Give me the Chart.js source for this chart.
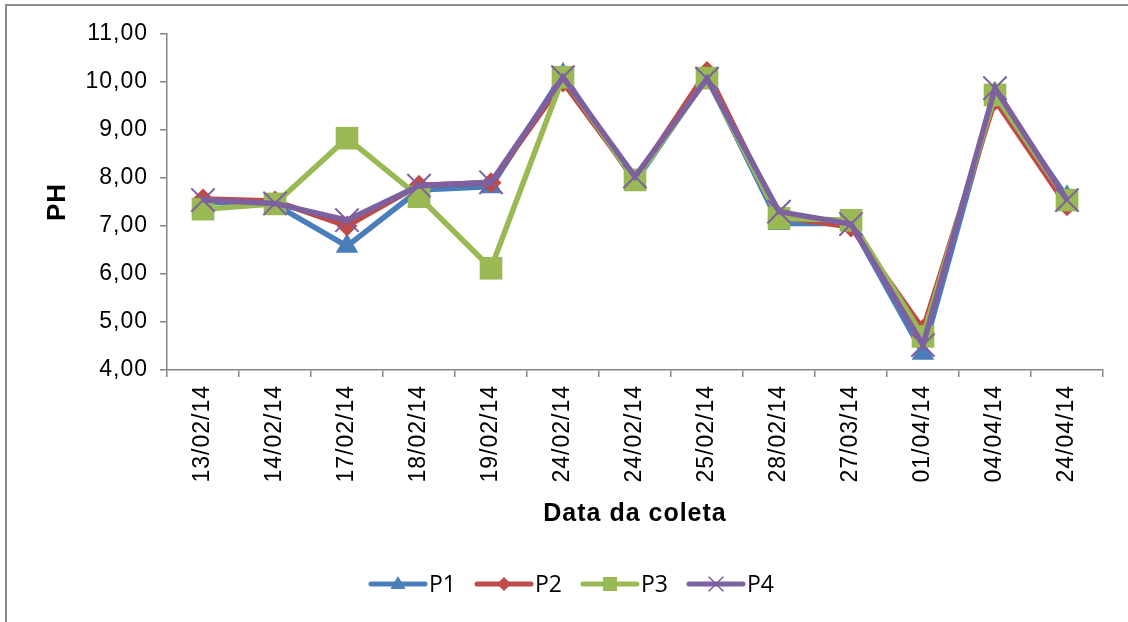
<!DOCTYPE html>
<html>
<head>
<meta charset="utf-8">
<script src="https://cdn.jsdelivr.net/npm/chart.js@4.4.1/dist/chart.umd.min.js"></script>
<style>
  html, body { margin: 0; padding: 0; background: #ffffff; }
  #wrap { width: 1128px; height: 622px; position: relative; }
</style>
</head>
<body>
<div id="wrap"><canvas id="ph" width="1128" height="622"></canvas></div>
<script>
// Collection dates (x categories)
const dates = ['13/02/14', '14/02/14', '17/02/14', '18/02/14', '19/02/14', '24/02/14',
               '24/02/14', '25/02/14', '28/02/14', '27/03/14', '01/04/14', '04/04/14', '24/04/14'];

// pH measured at each sampling point
const p1 = [7.50, 7.45, 6.58, 7.75, 7.82, 10.15, 7.92, 10.10, 7.05, 7.05, 4.35, 9.75, 7.60];
const p2 = [7.56, 7.52, 7.00, 7.85, 7.90, 10.00, 7.97, 10.22, 7.20, 6.98, 4.85, 9.62, 7.42];
const p3 = [7.35, 7.46, 8.83, 7.61, 6.12, 10.10, 7.96, 10.08, 7.16, 7.12, 4.70, 9.73, 7.54];
const p4 = [7.54, 7.47, 7.12, 7.84, 7.91, 10.10, 8.03, 10.07, 7.30, 7.04, 4.52, 9.87, 7.54];

const seriesNames = ['P1', 'P2', 'P3', 'P4'];

const FONT = '"Liberation Sans", Arial, sans-serif';
const AXIS = '#868686';
const SPACING = '1px';

Chart.defaults.font.family = FONT;

function fmt(v) { return v.toFixed(2).replace('.', ','); }

// Axis text is set with a little extra tracking
const tracking = {
  id: 'tracking',
  beforeUpdate(chart) { chart.ctx.letterSpacing = SPACING; },
  beforeLayout(chart) { chart.ctx.letterSpacing = SPACING; },
  beforeDraw(chart) { chart.ctx.letterSpacing = SPACING; }
};

// Small marker used in the key below the plot
function keyMarker(ctx, style, color, x, y) {
  ctx.save();
  ctx.fillStyle = color;
  ctx.strokeStyle = color;
  ctx.beginPath();
  if (style === 'triangle') {
    ctx.moveTo(x, y - 8); ctx.lineTo(x + 7.5, y + 5); ctx.lineTo(x - 7.5, y + 5); ctx.closePath(); ctx.fill();
  } else if (style === 'rectRot') {
    ctx.moveTo(x, y - 7); ctx.lineTo(x + 7, y); ctx.lineTo(x, y + 7); ctx.lineTo(x - 7, y); ctx.closePath(); ctx.fill();
  } else if (style === 'rect') {
    ctx.rect(x - 7, y - 7, 14, 14); ctx.fill();
  } else {
    ctx.lineWidth = 1.5;
    ctx.moveTo(x - 7, y - 7); ctx.lineTo(x + 7, y + 7);
    ctx.moveTo(x + 7, y - 7); ctx.lineTo(x - 7, y + 7);
    ctx.stroke();
  }
  ctx.restore();
}

const frameAndKey = {
  id: 'frameAndKey',
  afterDraw(chart) {
    const ctx = chart.ctx;
    ctx.save();
    ctx.letterSpacing = '0px';
    // outer frame
    ctx.strokeStyle = '#8c8c8c';
    ctx.lineWidth = 2;
    ctx.beginPath();
    ctx.moveTo(6, 622); ctx.lineTo(6, 5); ctx.lineTo(1128, 5);
    ctx.stroke();

    // key
    const y = 584;
    chart.data.datasets.forEach((ds, i) => {
      const x0 = 371 + i * 106;
      ctx.strokeStyle = ds.borderColor;
      ctx.lineWidth = 5;
      ctx.lineCap = 'round';
      ctx.beginPath();
      ctx.moveTo(x0, y); ctx.lineTo(x0 + 54, y);
      ctx.stroke();
      keyMarker(ctx, ds.pointStyle, ds.borderColor, x0 + 27, y);
      ctx.fillStyle = '#000';
      ctx.font = '23px "Open Sans", sans-serif';
      ctx.textBaseline = 'middle';
      ctx.textAlign = 'left';
      ctx.fillText(ds.label, x0 + 58, y + 1);
    });
    ctx.restore();
  }
};

const colors = ['#4a7ebb', '#be4b48', '#98b954', '#7d60a0'];
const styles = ['triangle', 'rectRot', 'rect', 'crossRot'];
const radii = [13, 10.5, 16, 16.5];
const values = [p1, p2, p3, p4];

const datasets = values.map((vals, i) => ({
  label: seriesNames[i],
  data: vals,
  borderColor: colors[i],
  backgroundColor: colors[i],
  borderWidth: 5.5,
  tension: 0,
  pointStyle: styles[i],
  pointRadius: radii[i],
  pointBackgroundColor: colors[i],
  pointBorderColor: colors[i],
  pointBorderWidth: styles[i] === 'crossRot' ? 2 : 0,
  order: 4 - i
}));

new Chart(document.getElementById('ph'), {
  type: 'line',
  data: { labels: dates, datasets },
  options: {
    responsive: false,
    devicePixelRatio: 1,
    animation: false,
    events: [],
    layout: { padding: { left: 30, top: 34, right: 25, bottom: 93 } },
    plugins: {
      legend: { display: false },
      tooltip: { enabled: false }
    },
    scales: {
      x: {
        offset: true,
        grid: { offset: true, drawOnChartArea: false, drawTicks: true, tickLength: 7, color: AXIS, lineWidth: 1.5 },
        border: { color: AXIS, width: 1.5 },
        ticks: { autoSkip: false, minRotation: 90, maxRotation: 90, padding: 8, color: '#000', font: { size: 23 } },
        title: { display: true, text: 'Data da coleta', color: '#000', font: { size: 25, weight: 'bold' }, padding: { top: 0, bottom: 0 } },
        afterFit(s) { s.height = 159; }
      },
      y: {
        min: 4,
        max: 11,
        grid: { drawOnChartArea: false, drawTicks: true, tickLength: 7, color: AXIS, lineWidth: 1.5 },
        border: { color: AXIS, width: 1.5 },
        ticks: { stepSize: 1, padding: 12, color: '#000', font: { size: 23 }, callback: v => fmt(v) },
        title: { display: true, text: 'PH', color: '#000', font: { size: 26, weight: 'bold' }, padding: { top: 12, bottom: 0 } },
        afterFit(s) { s.width = 137; }
      }
    }
  },
  plugins: [tracking, frameAndKey]
});
</script>
</body>
</html>
